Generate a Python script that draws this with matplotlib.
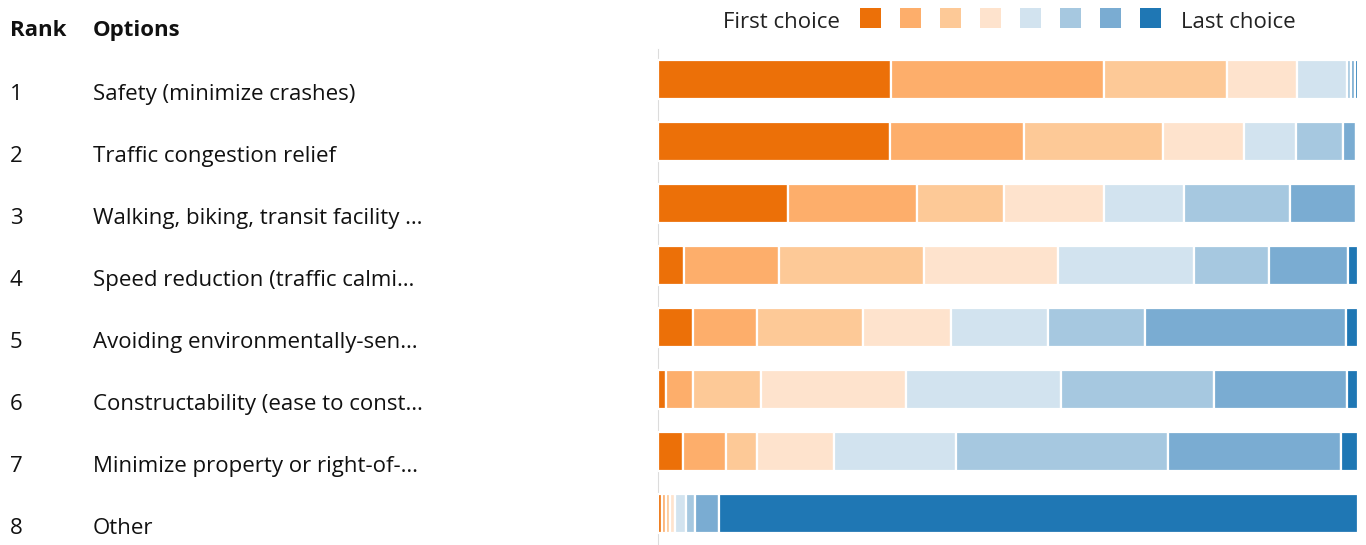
import numpy as np
import matplotlib
matplotlib.use("Agg")
import matplotlib.pyplot as plt
import matplotlib.transforms as mtransforms
from matplotlib.patches import Rectangle

# data (share of responses per choice position)
ranks = ["1", "2", "3", "4", "5", "6", "7", "8"]
options = [
    "Safety (minimize crashes)",
    "Traffic congestion relief",
    "Walking, biking, transit facility \u2026",
    "Speed reduction (traffic calmi\u2026",
    "Avoiding environmentally-sen\u2026",
    "Constructability (ease to const\u2026",
    "Minimize property or right-of-\u2026",
    "Other",
]
choice_1 = [233, 231, 130, 26, 35, 8, 25, 4]
choice_2 = [213, 134, 129, 95, 64, 27, 43, 4]
choice_3 = [123, 139, 87, 145, 105, 68, 31, 4]
choice_4 = [70, 80, 100, 133, 88, 145, 77, 5]
choice_5 = [50, 52, 80, 136, 96, 154, 122, 11]
choice_6 = [4, 47, 106, 75, 97, 153, 211, 9]
choice_7 = [4, 13, 66, 79, 200, 133, 173, 24]
choice_8 = [3, 2, 2, 10, 12, 11, 17, 638]

colors = ["#ec7008", "#fdae6b", "#fdc997", "#fee3cd",
          "#d2e3ef", "#a6c8e0", "#7aacd2", "#1f77b4"]

plt.rcParams["font.family"] = ["Open Sans", "DejaVu Sans"]

W, H = 1366, 545
fig = plt.figure(figsize=(W / 100, H / 100), dpi=100)

# bar area
ax = fig.add_axes([658 / W, 0.5 / H, 700 / W, 496 / H])
vals = np.array([choice_1, choice_2, choice_3, choice_4,
                 choice_5, choice_6, choice_7, choice_8], dtype=float)
pct = vals / vals.sum(axis=0) * 100
y = np.arange(len(options))
left = np.zeros(len(options))
for i in range(len(pct)):
    ax.barh(y, pct[i], left=left, height=0.63, color=colors[i],
            edgecolor="white", linewidth=1.6, zorder=3)
    left += pct[i]

ax.set_xlim(0, 100)
ax.set_ylim(len(options) - 0.5, -0.5)
for s in ["top", "right", "bottom"]:
    ax.spines[s].set_visible(False)
ax.spines["left"].set_color("#dcdcdc")
ax.spines["left"].set_zorder(1)
ax.set_xticks([])
ax.set_yticks([])

# table on the left, rows tied to the bar positions
trans = mtransforms.blended_transform_factory(fig.transFigure, ax.transData)
off = mtransforms.ScaledTranslation(0, -20.5 / 100, fig.dpi_scale_trans)
fs = 16
for i in range(len(options)):
    fig.text(10 / W, y[i], ranks[i], transform=trans + off, fontsize=fs,
             va="baseline", ha="left", color="#111111")
    fig.text(93 / W, y[i], options[i], transform=trans + off, fontsize=fs,
             va="baseline", ha="left", color="#111111")

fig.text(10 / W, 1 - 36 / H, "Rank", fontsize=fs, fontweight="bold",
         va="baseline", ha="left", color="#111111")
fig.text(93 / W, 1 - 36 / H, "Options", fontsize=fs, fontweight="bold",
         va="baseline", ha="left", color="#111111")

# legend
fig.text(840 / W, 1 - 28 / H, "First choice", fontsize=fs, va="baseline",
         ha="right", color="#222222")
for i, c in enumerate(colors):
    x0 = 860 + 40 * i
    fig.add_artist(Rectangle((x0 / W, 1 - 28 / H), 21 / W, 20 / H,
                             transform=fig.transFigure, facecolor=c,
                             edgecolor="none"))
fig.text(1181 / W, 1 - 28 / H, "Last choice", fontsize=fs, va="baseline",
         ha="left", color="#222222")

fig.savefig("out.png", dpi=100)
